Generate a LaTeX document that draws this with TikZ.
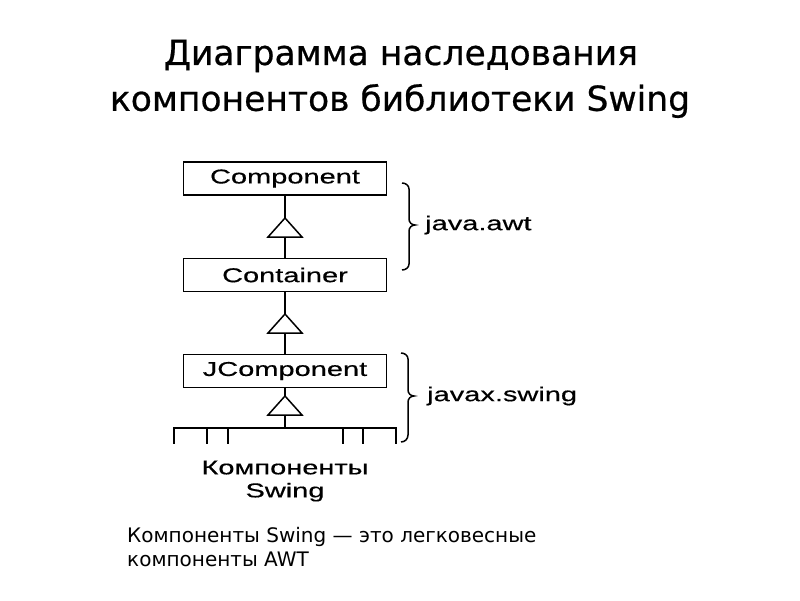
\documentclass[tikz,border=0pt]{standalone}
\usepackage{fontspec}
\setmainfont{DejaVu Sans}
\newfontfamily\ttlfont[FakeBold=0.6]{DejaVu Sans}
\newfontfamily\diagfont[FakeStretch=1.45,FakeBold=0.4]{Liberation Sans}
\begin{document}
\begin{tikzpicture}[x=1pt,y=-1pt,
  cls/.style={draw,line width=1.5pt,minimum width=203pt,minimum height=33pt,inner sep=0pt,
    font=\diagfont\fontsize{20}{22}\selectfont},
  conn/.style={line width=1.5pt},
  tri/.style={line width=1.5pt,fill=white,line join=miter},
  lbl/.style={font=\diagfont\fontsize{20}{22}\selectfont,inner sep=0pt},
  ttl/.style={font=\ttlfont\fontsize{34.5}{45}\selectfont,inner sep=0pt},
  note/.style={font=\fontsize{20}{24}\selectfont,inner sep=0pt,align=left}]
\useasboundingbox (0,0) rectangle (800,600);
% title
\node[ttl] (t1) at (401,56) {Диаграмма наследования};
\node[ttl] (t2) at (400,101) {компонентов библиотеки Swing};
% classes
\node[cls] (comp) at (285,178.5) {Component};
\node[cls] (cont) at (285,275) {Container};
\node[cls] (jcomp) at (285,371) {JComponent};
\coordinate (bar) at (285,428);
% connectors
\draw[conn] (comp.south) -- (cont.north);
\draw[conn] (cont.south) -- (jcomp.north);
\draw[conn] (jcomp.south) -- (bar);
\coordinate (a1) at (285,218);
\coordinate (a2) at (285,314);
\coordinate (a3) at (285,396);
\foreach \a in {a1,a2,a3}
  \draw[tri] (\a) -- ++(17,19) -- ++(-34,0) -- cycle;
% bar with ticks
\draw[conn] (174,428) -- (397,428);
\foreach \x in {174,207,228,343,363,396}
  \draw[conn] (\x,427.3) -- (\x,444);
\node[lbl,align=center] (sw) at (285,481) {Компоненты\\[1pt]Swing};
% braces
\draw[line width=1.5pt] (402,183) to[out=0,in=90] (409,189) -- (409,219)
  to[out=-90,in=180] (415,225) to[out=180,in=90] (409,231) -- (409,264)
  to[out=-90,in=0] (402,270);
\node[lbl,anchor=west] (awt) at (425,225) {java.awt};
\draw[line width=1.5pt] (401,353) to[out=0,in=90] (408,359) -- (408,390)
  to[out=-90,in=180] (414,396) to[out=180,in=90] (408,402) -- (408,435)
  to[out=-90,in=0] (401,442);
\node[lbl,anchor=west] (swing) at (427,396) {javax.swing};
% note
\node[note,anchor=north west] (n) at (127,527) {Компоненты Swing — это легковесные\\компоненты AWT};
\end{tikzpicture}
\end{document}
